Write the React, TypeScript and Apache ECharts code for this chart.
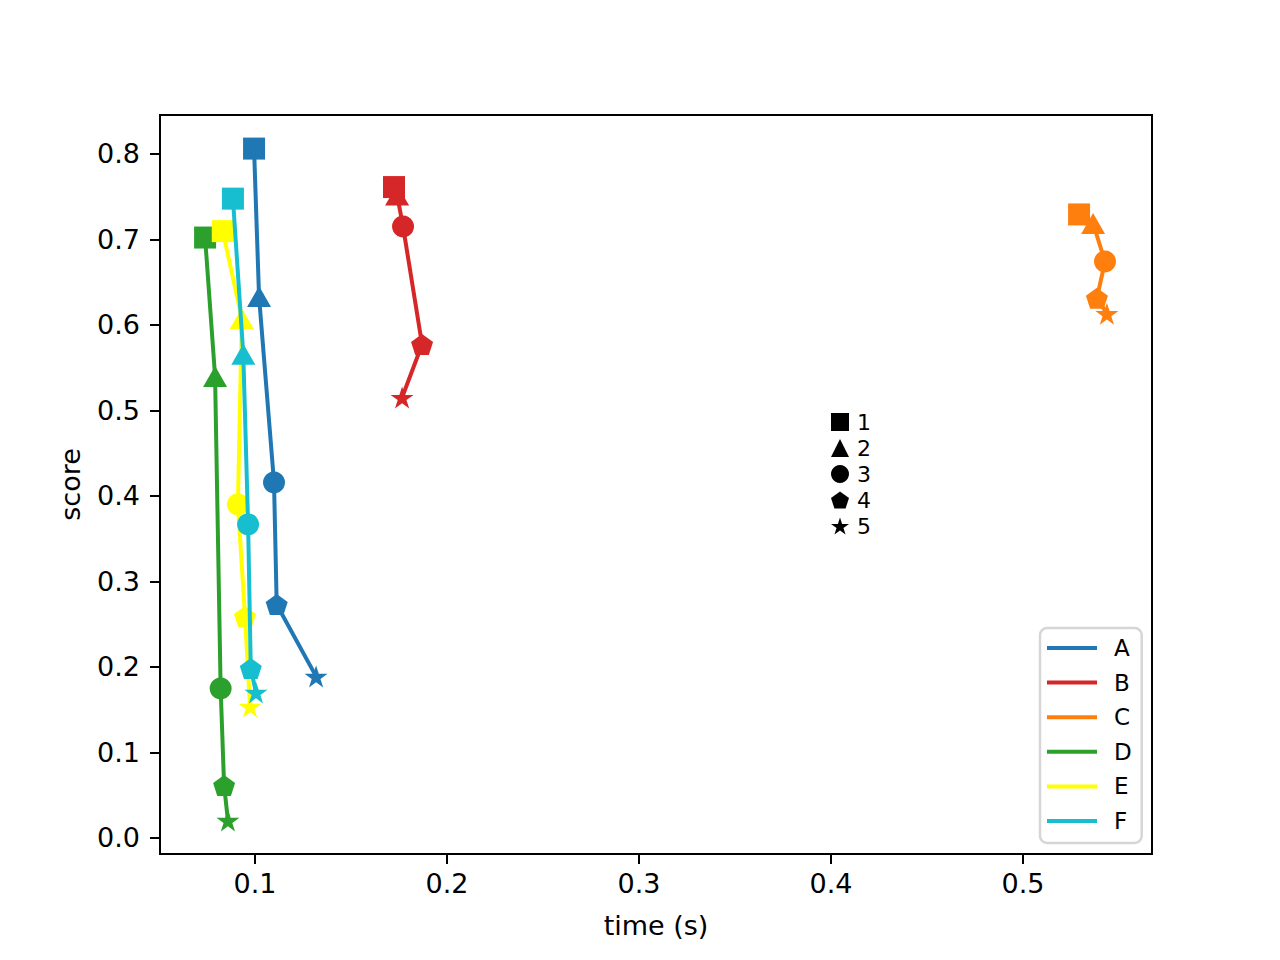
import { useEffect, useRef } from "react";
import * as echarts from "echarts";

// Methods and their colours
const methods = ["A", "B", "C", "D", "E", "F"];
const methodColors = ["#1f77b4", "#d62728", "#ff7f0e", "#2ca02c", "#ffff00", "#17becf"];

// Stages 1..5, each drawn with its own marker
const stages = ["1", "2", "3", "4", "5"];

// time (s) per stage for each method
const timeA = [0.0995, 0.1021, 0.1099, 0.1113, 0.1318];
const timeB = [0.1724, 0.174, 0.1771, 0.187, 0.1766];
const timeC = [0.5292, 0.5365, 0.5427, 0.5385, 0.5437];
const timeD = [0.074, 0.0792, 0.0821, 0.0839, 0.0859];
const timeE = [0.0832, 0.0931, 0.0911, 0.0948, 0.0974];
const timeF = [0.0885, 0.0939, 0.0964, 0.0978, 0.1005];

// score per stage for each method
const scoreA = [0.806, 0.633, 0.4157, 0.273, 0.1889];
const scoreB = [0.761, 0.7516, 0.715, 0.577, 0.515];
const scoreC = [0.729, 0.7185, 0.674, 0.631, 0.613];
const scoreD = [0.702, 0.5396, 0.1748, 0.0614, 0.0205];
const scoreE = [0.7095, 0.6074, 0.39, 0.259, 0.1538];
const scoreF = [0.7475, 0.5654, 0.3666, 0.1982, 0.1701];

// Tick labels
const xTicks = [0.1, 0.2, 0.3, 0.4, 0.5];
const yTicks = [0.0, 0.1, 0.2, 0.3, 0.4, 0.5, 0.6, 0.7, 0.8];

const times = [timeA, timeB, timeC, timeD, timeE, timeF];
const scores = [scoreA, scoreB, scoreC, scoreD, scoreE, scoreF];

const PENTAGON = "path://M0,-100L95.1,-30.9L58.8,80.9L-58.8,80.9L-95.1,-30.9Z";
const STAR =
  "path://M0,-100L22.45,-30.9L95.1,-30.9L36.33,11.8L58.8,80.9L0,38.2L-58.8,80.9L-36.33,11.8L-95.1,-30.9L-22.45,-30.9Z";

const stageSymbols = ["rect", "triangle", "circle", PENTAGON, STAR];
const stageSizes: (number | number[])[] = [22, [24, 21], 22, [22, 21], [23, 22]];

const FONT = "DejaVu Sans";

// 5% padding around the data range on each axis
function paddedRange(values: number[]) {
  const lo = Math.min(...values);
  const hi = Math.max(...values);
  const pad = (hi - lo) * 0.05;
  return [lo - pad, hi + pad];
}

export default function App() {
  const ref = useRef<HTMLDivElement>(null);

  useEffect(() => {
    if (!ref.current) return;
    const chart = echarts.init(ref.current, undefined, { renderer: "svg" });

    const [xMin, xMax] = paddedRange(times.flat());
    const [yMin, yMax] = paddedRange(scores.flat());

    const methodSeries = methods.map((name, i) => ({
      name,
      type: "line",
      z: 2 + i,
      color: methodColors[i],
      lineStyle: { width: 4, color: methodColors[i] },
      itemStyle: { color: methodColors[i], opacity: 1 },
      showAllSymbol: true,
      data: times[i].map((t, k) => ({
        value: [t, scores[i][k]],
        symbol: stageSymbols[k],
        symbolSize: stageSizes[k],
      })),
    }));

    const keySeries = stages.map((name, k) => ({
      name,
      type: "scatter",
      color: "#000",
      itemStyle: { color: "#000", opacity: 1 },
      symbol: stageSymbols[k],
      data: [],
    }));

    chart.setOption({
      animation: false,
      backgroundColor: "#ffffff",
      textStyle: { fontFamily: FONT },
      grid: {
        left: 160,
        right: 128,
        top: 115,
        bottom: 106,
        show: true,
        borderColor: "#000",
        borderWidth: 2,
        outerBoundsMode: "none",
      },
      xAxis: {
        type: "value",
        min: xMin,
        max: xMax,
        name: "time (s)",
        nameLocation: "middle",
        nameGap: 58,
        nameTextStyle: { fontSize: 27, color: "#000", fontFamily: FONT },
        axisLine: { show: true, onZero: false, lineStyle: { color: "#000", width: 2 } },
        axisTick: {
          show: true,
          inside: false,
          length: 10,
          customValues: xTicks,
          lineStyle: { color: "#000", width: 2 },
        },
        axisLabel: {
          customValues: xTicks,
          fontSize: 27,
          color: "#000",
          fontFamily: FONT,
          margin: 16,
          formatter: (v: number) => v.toFixed(1),
        },
        splitLine: { show: false },
      },
      yAxis: {
        type: "value",
        min: yMin,
        max: yMax,
        name: "score",
        nameLocation: "middle",
        nameRotate: 90,
        nameGap: 76,
        nameTextStyle: { fontSize: 27, color: "#000", fontFamily: FONT },
        axisLine: { show: true, onZero: false, lineStyle: { color: "#000", width: 2 } },
        axisTick: {
          show: true,
          inside: false,
          length: 10,
          customValues: yTicks,
          lineStyle: { color: "#000", width: 2 },
        },
        axisLabel: {
          customValues: yTicks,
          fontSize: 27,
          color: "#000",
          fontFamily: FONT,
          margin: 20,
          formatter: (v: number) => v.toFixed(1),
        },
        splitLine: { show: false },
      },
      legend: [
        {
          z: 20,
          orient: "vertical",
          left: 1040,
          top: 628,
          selectedMode: false,
          data: methods.map((name) => ({ name, icon: "rect" })),
          itemWidth: 50,
          itemHeight: 4,
          itemGap: 10.6,
          padding: [8, 10, 10, 7],
          backgroundColor: "rgba(255,255,255,0.8)",
          borderColor: "#d6d6d6",
          borderWidth: 2.5,
          borderRadius: 7,
          textStyle: {
            fontSize: 23,
            lineHeight: 24,
            color: "#000",
            fontFamily: FONT,
            padding: [0, 0, 0, 12],
          },
        },
        {
          z: 20,
          orient: "vertical",
          left: 831,
          top: 411,
          selectedMode: false,
          data: stages.map((name, k) => ({
            name,
            icon: stageSymbols[k],
            itemStyle: { color: "#000", opacity: 1 },
          })),
          itemWidth: 18,
          itemHeight: 18,
          itemGap: 4,
          padding: 0,
          textStyle: {
            fontSize: 22,
            lineHeight: 22,
            color: "#000",
            fontFamily: FONT,
            padding: [0, 0, 0, 3],
          },
        },
      ],
      series: [...methodSeries, ...keySeries],
    });

    return () => chart.dispose();
  }, []);

  return (
    <div
      ref={ref}
      style={{ position: "fixed", left: 0, top: 0, width: 1280, height: 960 }}
    />
  );
}
